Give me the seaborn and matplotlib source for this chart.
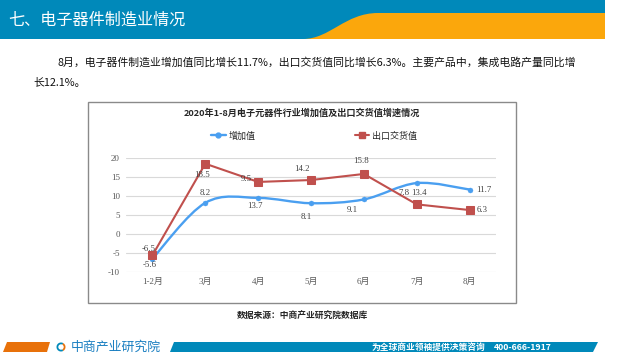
import numpy as np
import pandas as pd
import matplotlib
matplotlib.use("Agg")
import matplotlib.pyplot as plt
import seaborn as sns
from matplotlib.path import Path
from matplotlib.patches import PathPatch, Rectangle, Polygon, Wedge
from matplotlib.lines import Line2D

sns.set_theme(style="white")
plt.rcParams['font.family'] = ['Noto Sans CJK SC', 'DejaVu Sans']

# data
months = ['1-2月', '3月', '4月', '5月', '6月', '7月', '8月']
added_value = [-6.5, 8.2, 9.5, 8.1, 9.1, 13.4, 11.7]
export_value = [-5.6, 18.5, 13.7, 14.2, 15.8, 7.8, 6.3]
series_names = ['增加值', '出口交货值']
y_ticks = [-10, -5, 0, 5, 10, 15, 20]

slide_title = '七、电子器件制造业情况'
para_line1 = '8月，电子器件制造业增加值同比增长11.7%，出口交货值同比增长6.3%。主要产品中，集成电路产量同比增'
para_line2 = '长12.1%。'
chart_title = '2020年1-8月电子元器件行业增加值及出口交货值增速情况'
source_text = '数据来源：中商产业研究院数据库'
footer_brand = '中商产业研究院'
footer_slogan = '为全球商业领袖提供决策咨询'
footer_phone = '400-666-1917'

df = pd.DataFrame({'month': months, 'pos': np.arange(len(months)),
                   series_names[0]: added_value, series_names[1]: export_value})

blue = '#4a9ff0'
red = '#c0504d'
banner_blue = '#0089ba'
banner_orange = '#fba70c'
foot_orange = '#e8710a'
serif = ['Liberation Serif', 'Noto Sans CJK SC']

fig = plt.figure(figsize=(6.4, 3.6), dpi=100)
fig.patch.set_facecolor('white')

# slide background layer in pixel coords
bg = fig.add_axes([0, 0, 1, 1])
bg.set_xlim(0, 640)
bg.set_ylim(360, 0)
bg.axis('off')

bg.add_patch(Rectangle((0, 0), 605, 39, color=banner_blue, lw=0))
orange_path = Path([(303, 39), (330, 39), (345, 13), (378, 13), (605, 13), (605, 39), (303, 39)],
                   [Path.MOVETO, Path.CURVE4, Path.CURVE4, Path.CURVE4,
                    Path.LINETO, Path.LINETO, Path.CLOSEPOLY])
bg.add_patch(PathPatch(orange_path, color=banner_orange, lw=0))
bg.text(8, 20, slide_title, color='white', fontsize=11.6, va='center', ha='left')

bg.text(57, 62, para_line1, fontsize=7.8, va='center', ha='left', color='#111111')
bg.text(33, 83, para_line2, fontsize=7.8, va='center', ha='left', color='#111111')

bg.add_patch(Rectangle((88, 102), 428, 201, fill=False, ec='#8a8a8a', lw=1.0))
bg.text(302, 113, chart_title, fontsize=6.6, fontweight='bold', ha='center', va='center')
bg.text(302, 316, source_text, fontsize=6.3, fontweight='bold', ha='center', va='center')

# footer
bg.add_patch(Polygon([(3, 352), (7, 342), (50, 342), (47, 352)], color=foot_orange, lw=0))
bg.add_patch(Wedge((61, 347), 4.5, 60, 300, width=1.8, color=banner_blue, lw=0))
bg.add_patch(Wedge((61, 347), 4.5, 300, 60, width=1.8, color=foot_orange, lw=0))
bg.text(71, 347, footer_brand, fontsize=9.3, color='#1a7fc1', va='center', ha='left')
bg.add_patch(Polygon([(170, 352), (174, 342), (598, 342), (593, 352)], color=banner_blue, lw=0))
bg.text(372, 347, footer_slogan, fontsize=6.3, color='white', fontweight='bold', va='center', ha='left')
bg.text(494, 347, footer_phone, fontsize=6.3, color='white', fontweight='bold', va='center', ha='left')

# chart
ax = fig.add_axes([126 / 640, (360 - 272) / 360, 370 / 640, 114 / 360])
ax.patch.set_alpha(0)

# smoothed blue line (bezier through the points)
pts = np.column_stack([df['pos'].values, df[series_names[0]].values]).astype(float)
verts = [tuple(pts[0])]
codes = [Path.MOVETO]
n = len(pts)
for i in range(n - 1):
    p0 = pts[max(i - 1, 0)]
    p1 = pts[i]
    p2 = pts[i + 1]
    p3 = pts[min(i + 2, n - 1)]
    c1 = p1 + (p2 - p0) / 6
    c2 = p2 - (p3 - p1) / 6
    verts += [tuple(c1), tuple(c2), tuple(p2)]
    codes += [Path.CURVE4] * 3
ax.add_patch(PathPatch(Path(verts, codes), fill=False, ec=blue, lw=1.7, capstyle='round', zorder=2))
sns.scatterplot(data=df, x='pos', y=series_names[0], color=blue, s=13, edgecolor=blue,
                marker='o', ax=ax, zorder=3)

sns.lineplot(data=df, x='pos', y=series_names[1], color=red, marker='s', markersize=6,
             markeredgecolor=red, lw=1.5, ax=ax, zorder=4)

ax.set_xlim(-0.5, len(months) - 0.5)
ax.set_ylim(-10, 20)
ax.set_xticks(df['pos'], months, family=serif)
ax.set_yticks(y_ticks)
ax.set_yticklabels([str(t) for t in y_ticks], family=serif)
ax.tick_params(axis='both', length=0, labelsize=6.5, labelcolor='#595959')
ax.tick_params(axis='y', pad=4.3)
ax.tick_params(axis='x', pad=4)
ax.grid(axis='y', color='#d9d9d9', lw=0.8)
ax.grid(axis='x', visible=False)
for s in ax.spines.values():
    s.set_visible(False)
ax.set_xlabel('')
ax.set_ylabel('')

# data labels, offsets in pixels (dx right, dy up)
blue_offsets = [(-4, 10), (0, 10), (-12, 19), (-5, -13.5), (-12, -11), (2, -10), (14, 0)]
red_offsets = [(-2.5, -10), (-3, -11.6), (-3, -24), (-9, 11), (-3, 13), (-13, 11), (13, 0)]
for vals, offs in ((added_value, blue_offsets), (export_value, red_offsets)):
    for i, (v, (dx, dy)) in enumerate(zip(vals, offs)):
        ax.annotate(f'{v:.1f}', (i, v), xytext=(dx, dy), textcoords='offset pixels',
                    ha='center', va='center', fontsize=6.3, color='#404040', family=serif,
                    annotation_clip=False, zorder=6)

handles = [Line2D([], [], color=blue, marker='o', markersize=3.5, lw=1.7),
           Line2D([], [], color=red, marker='s', markersize=4.5, lw=1.5)]
ax.legend(handles, series_names, loc='center', bbox_to_anchor=(314 / 640, 1 - 136 / 360),
          bbox_transform=fig.transFigure, ncol=2, frameon=False, columnspacing=11,
          handlelength=1.6, handletextpad=0.3, prop={'size': 6.5})

fig.savefig('out.png', dpi=100)
